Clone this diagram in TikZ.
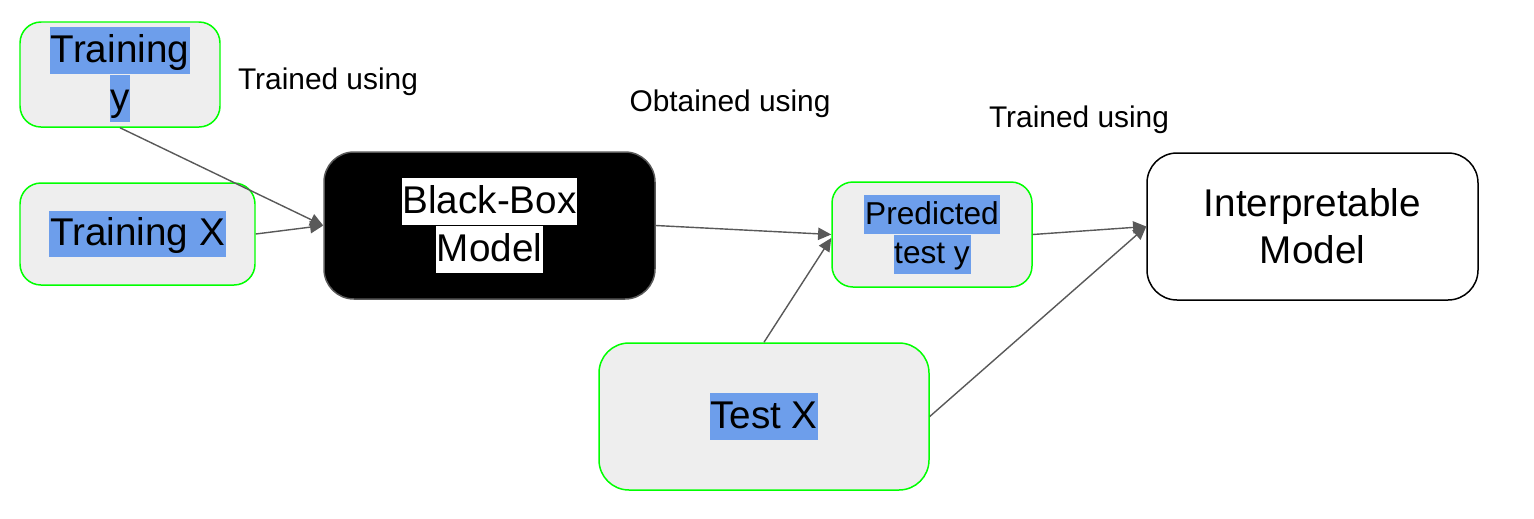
\documentclass[tikz,border=0pt]{standalone}
\usepackage{fontspec}
\setmainfont{Liberation Sans}
\usetikzlibrary{positioning}
\usetikzlibrary{arrows.meta}
\definecolor{gs-green}{HTML}{00FF00}
\definecolor{gs-blue}{HTML}{6D9EEB}
\definecolor{gs-grey}{HTML}{EEEEEE}
\definecolor{gs-line}{HTML}{595959}
\tikzset{
  databox/.style 2 args={
    rectangle,
    draw=gs-green,
    fill=gs-grey,
    line width=0.85pt,
    minimum width=#1,
    minimum height=#2,
    inner sep=0pt},
  modelbox/.style 2 args={
    rectangle,
    rounded corners=0.6cm,
    draw=#1,
    fill=#2,
    line width=0.85pt,
    minimum width=6.62cm,
    minimum height=2.94cm,
    inner sep=0pt},
}

\begin{document}
\begin{tikzpicture}[
  big/.style={font=\fontsize{22}{26.6}\selectfont},
  small/.style={font=\fontsize{18}{22}\selectfont},
  hl/.style={fill=#1, inner xsep=0.4pt, inner ysep=0pt},
  bigline/.style={hl=#1, big, text height=20pt, text depth=6.6pt},
  smallline/.style={hl=#1, small, text height=16.3pt, text depth=5.7pt},
  lbl/.style={font=\fontsize{17}{20}\selectfont},
  link/.style={draw=gs-line, line width=0.8pt, -{Triangle[length=7.5pt,width=7pt]}}]
  \useasboundingbox (0,0) rectangle (30.68,-10.36);

  % inputs
  \node[databox={4.0cm}{2.1cm}, rounded corners=0.42cm] (tr-y) at (2.4,-1.49) {};
  \node[bigline=gs-blue, anchor=south] (tr-y1) at (tr-y.center) {Training};
  \node[bigline=gs-blue, anchor=north] (tr-y2) at (tr-y.center) {y};
  \node[databox={4.7cm}{2.04cm}, rounded corners=0.42cm] (tr-x) at (2.75,-4.68) {};
  \node[bigline=gs-blue] (tr-x1) at (tr-x.center) {Training X};
  \node[databox={6.6cm}{2.94cm}, rounded corners=0.6cm] (te-x) at (15.28,-8.33) {};
  \node[bigline=gs-blue] (te-x1) at (te-x.center) {Test X};

  % models
  \node[modelbox={gs-line}{black}] (bb) at (9.79,-4.51) {};
  \node[bigline=white, anchor=south] (bb1) at (bb.center) {Black-Box};
  \node[bigline=white, anchor=north] (bb2) at (bb.center) {Model};
  \node[modelbox={black}{white}, big, align=center] (interp) at (26.25,-4.53) {Interpretable\\Model};

  % predictions
  \node[databox={4.0cm}{2.1cm}, rounded corners=0.42cm] (pred) at (18.64,-4.69) {};
  \node[smallline=gs-blue, anchor=south] (pred1) at (pred.center) {Predicted};
  \node[smallline=gs-blue, anchor=north] (pred2) at (pred.center) {test y};

  % labels
  \node[lbl] (lbl-train1) at (6.56,-1.63) {Trained using};
  \node[lbl] (lbl-obtain) at (14.6,-2.07) {Obtained using};
  \node[lbl] (lbl-train2) at (21.58,-2.39) {Trained using};

  % links
  \draw[link] (tr-y.south) -- (bb.west);
  \draw[link] (tr-x.east) -- (bb.west);
  \draw[link] (bb.east) -- (pred.west);
  \draw[link] (te-x.north) -- ([yshift=-0.07cm]pred.west);
  \draw[link] (pred.east) -- (interp.west);
  \draw[link] (te-x.east) -- (interp.west);
\end{tikzpicture}
\end{document}
